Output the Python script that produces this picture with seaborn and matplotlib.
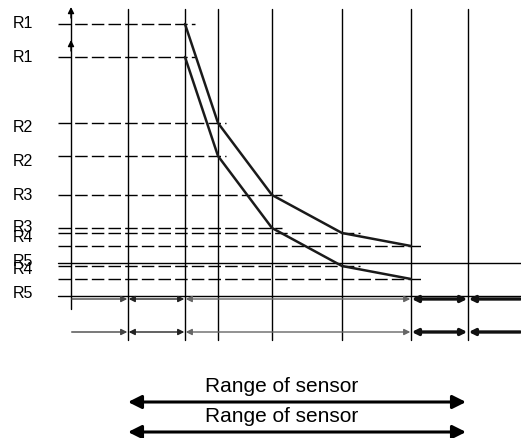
import matplotlib
matplotlib.use("Agg")
import matplotlib.pyplot as plt
import seaborn as sns
import pandas as pd

# ---------------- data (schematic units, y grows downward) ----------------
axis_x = 71
grid_x = [128, 185, 218, 272, 342, 411, 468]          # vertical guide lines
curve_x = [185, 218, 272, 342, 411]                    # distance at each break point
curve_y = [24, 123, 195, 233, 246]                     # resistance level at each point
level_line_start = 58
level_line_end = [195, 226, 282, 360, 422]             # extent of dashed level lines
floor_level = 263                                       # solid R5 line
level_names = ["R1", "R2", "R3", "R4", "R5"]
label_y = [24, 128, 195, 237, 261]
copy_offsets = [0, 33]                                  # the diagram appears twice
segment_bounds = [71, 128, 185, 411, 468, 521]          # arrow row segments
segment_widths = [1.0, 1.0, 1.0, 2.4, 2.4]
segment_colors = ["#444444", "#222222", "#666666", "#111111", "#111111"]
arrow_row_y = 299
range_start, range_end = 128, 466
range_y = [402, 432]
range_text = "Range of sensor"

sns.set_style("white")
plt.rcParams["font.family"] = ["Liberation Sans", "DejaVu Sans"]

fig = plt.figure(figsize=(5.21, 4.38), dpi=100)
ax = fig.add_axes([0, 0, 1, 1])

# vertical guide lines
for gx in grid_x:
    ax.plot([gx, gx], [9, 340], color="black", lw=1.0)

# y axis with arrowheads (two copies)
ax.plot([axis_x, axis_x], [12, 309], color="black", lw=1.0)
for off in copy_offsets:
    ax.annotate("", xy=(axis_x, 7 + off), xytext=(axis_x, 18 + off),
                arrowprops=dict(arrowstyle="-|>", color="black", lw=1.0,
                                mutation_scale=9, shrinkA=0, shrinkB=0))

# level lines, labels, arrow rows for each copy
for off in copy_offsets:
    for yv, xe in zip(curve_y, level_line_end):
        ax.plot([level_line_start, xe], [yv + off, yv + off], color="black",
                lw=1.0, linestyle=(0, (9, 3)))
    ax.plot([level_line_start, 521], [floor_level + off, floor_level + off],
            color="black", lw=1.0)
    for name, ly in zip(level_names, label_y):
        ax.text(13, ly + off, name, fontsize=11.5, va="center", ha="left",
                color="black")
    ry = arrow_row_y + off
    n = len(segment_widths)
    for i in range(n):
        x0, x1 = segment_bounds[i], segment_bounds[i + 1]
        if i == 0:
            style = "-|>"
        elif i == n - 1:
            style = "<|-"
        else:
            style = "<|-|>"
        ax.annotate("", xy=(x1, ry), xytext=(x0, ry),
                    arrowprops=dict(arrowstyle=style, color=segment_colors[i],
                                    lw=segment_widths[i], mutation_scale=9,
                                    shrinkA=0.5, shrinkB=0.5))

# curves via seaborn
rows = []
for k, off in enumerate(copy_offsets):
    for xv, yv in zip(curve_x, curve_y):
        rows.append({"distance": xv, "resistance": yv + off, "copy": k})
df = pd.DataFrame(rows)
sns.lineplot(data=df, x="distance", y="resistance", units="copy",
             estimator=None, sort=False, color="#1a1a1a", lw=1.8, ax=ax,
             legend=False)

# range of sensor arrows
for ry in range_y:
    ax.annotate("", xy=(range_end, ry), xytext=(range_start, ry),
                arrowprops=dict(arrowstyle="<|-|>", color="black", lw=2.2,
                                mutation_scale=20, shrinkA=0, shrinkB=0))
    ax.text(282, ry - 16, range_text,
            fontsize=15, ha="center", va="center", color="black")

ax.set_xlim(0, 521)
ax.set_ylim(438, 0)
ax.axis("off")

fig.savefig("out.png", dpi=100)
